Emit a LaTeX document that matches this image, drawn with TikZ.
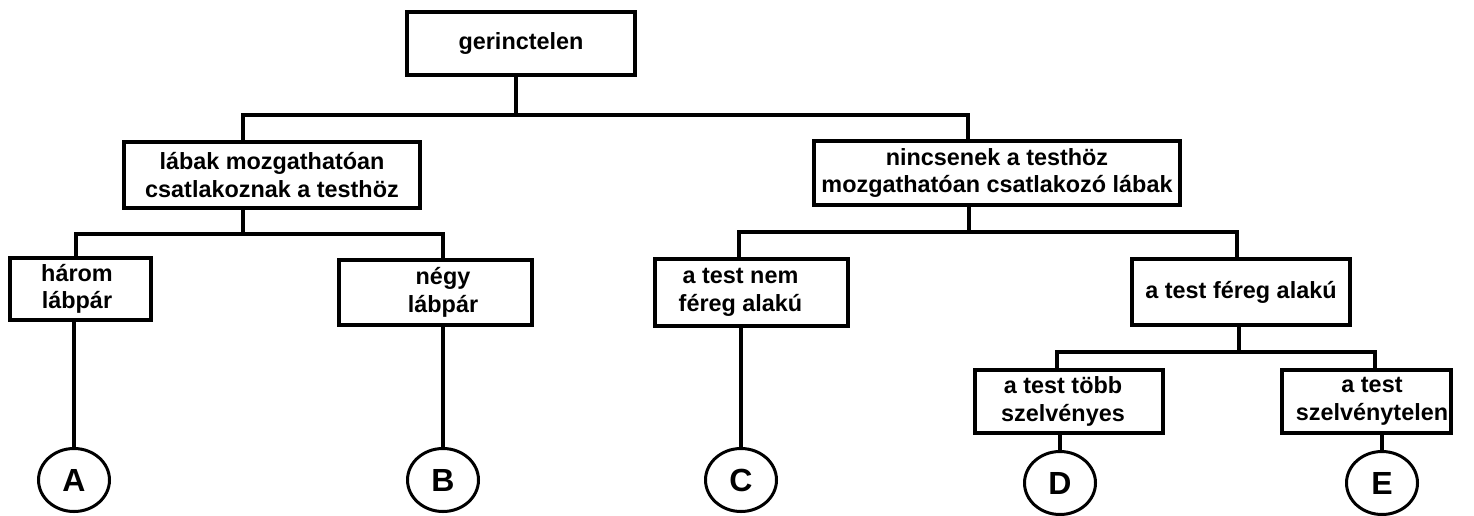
\documentclass[tikz,border=0pt]{standalone}
\usepackage{fontspec}
\setmainfont{Liberation Sans}
\usetikzlibrary{shapes.geometric}
\tikzset{
  box/.style={draw, line width=4pt, inner sep=0pt, align=center,
    font=\fontsize{23.4pt}{27.5pt}\selectfont\bfseries},
  leaf/.style={draw, ellipse, line width=3pt, inner sep=0pt,
    minimum width=71pt, minimum height=63pt,
    font=\fontsize{32pt}{36pt}\selectfont\bfseries},
  conn/.style={line width=3.6pt, line join=miter}
}
\begin{document}
\begin{tikzpicture}[x=1pt,y=-1pt]
\useasboundingbox[fill=white] (0,0) rectangle (1474,515);
% boxes
\node[box, minimum width=228pt, minimum height=63pt] (ger) at (521,43.5) {gerinctelen};
\node[box, minimum width=296pt, minimum height=66pt] (lab) at (272,175) {lábak mozgathatóan\\csatlakoznak a testhöz};
\node[box, minimum width=366pt, minimum height=64pt] (nin) at (997,173) {nincsenek a testhöz\\mozgathatóan csatlakozó lábak};
\node[box, minimum width=141pt, minimum height=62pt] (harom) at (80.5,289) {három\hspace*{7pt}\\lábpár\hspace*{7pt}};
\node[box, minimum width=193pt, minimum height=65pt] (negy) at (435.5,292.5) {\hspace*{15pt}négy\\\hspace*{15pt}lábpár};
\node[box, minimum width=193pt, minimum height=67pt] (cbox) at (751.5,292.5) {a test nem\hspace*{22pt}\\féreg alakú\hspace*{22pt}};
\node[box, minimum width=218pt, minimum height=66pt] (fer) at (1241,292) {a test féreg alakú};
\node[box, minimum width=188pt, minimum height=63pt] (dbox) at (1069,401.5) {a test több\hspace*{12pt}\\szelvényes\hspace*{12pt}};
\node[box, minimum width=169pt, minimum height=63pt] (ebox) at (1366.5,401.5) {\hspace*{11pt}a test\\\hspace*{11pt}szelvénytelen};
% leaves
\node[leaf] (A) at (74,480) {A};
\node[leaf] (B) at (443,480) {B};
\node[leaf] (C) at (741,480) {C};
\node[leaf] (D) at (1060,483) {D};
\node[leaf] (E) at (1382,483) {E};
% junctions
\coordinate (j1) at (516,115);
\coordinate (b1L) at (243,115);
\coordinate (b1R) at (968,115);
\coordinate (j2) at (243,234);
\coordinate (b2L) at (76,234);
\coordinate (b2R) at (443,234);
\coordinate (j3) at (969,232);
\coordinate (b3L) at (739,232);
\coordinate (b3R) at (1237,232);
\coordinate (j4) at (1239,352);
\coordinate (b4L) at (1057,352);
\coordinate (b4R) at (1375,352);
% connectors
\draw[conn] (ger.south -| j1) -- (j1);
\draw[conn] (lab.north -| b1L) -- (b1L) -- (b1R) -- (nin.north -| b1R);
\draw[conn] (lab.south -| j2) -- (j2);
\draw[conn] (harom.north -| b2L) -- (b2L) -- (b2R) -- (negy.north -| b2R);
\draw[conn] (nin.south -| j3) -- (j3);
\draw[conn] (cbox.north -| b3L) -- (b3L) -- (b3R) -- (fer.north -| b3R);
\draw[conn] (fer.south -| j4) -- (j4);
\draw[conn] (dbox.north -| b4L) -- (b4L) -- (b4R) -- (ebox.north -| b4R);
\draw[conn] (harom.south -| A.north) -- (A.north);
\draw[conn] (negy.south -| B.north) -- (B.north);
\draw[conn] (cbox.south -| C.north) -- (C.north);
\draw[conn] (dbox.south -| D.north) -- (D.north);
\draw[conn] (ebox.south -| E.north) -- (E.north);
\end{tikzpicture}
\end{document}
